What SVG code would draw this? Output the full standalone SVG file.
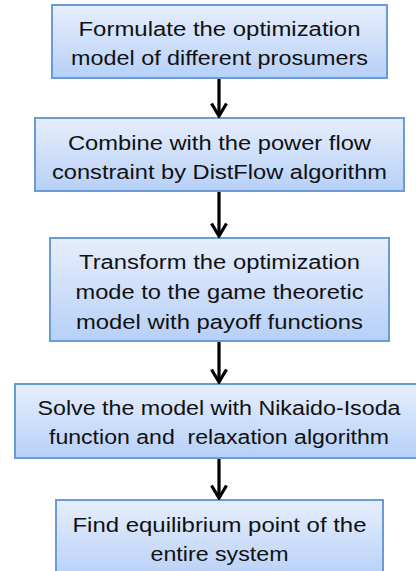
<svg xmlns="http://www.w3.org/2000/svg" width="416" height="571" viewBox="0 0 416 571">
  <defs>
    <linearGradient id="boxFill" x1="0" y1="0" x2="0" y2="1">
      <stop offset="0" stop-color="#e7eefc"/>
      <stop offset="1" stop-color="#b6d0f8"/>
    </linearGradient>
    <!-- open chevron head, drawn pointing along +x so orient="auto" follows the line -->
    <marker id="chev" viewBox="0 0 16 18" refX="14" refY="9" markerWidth="16" markerHeight="18" markerUnits="userSpaceOnUse" orient="auto">
      <path d="M1.5 1.5 L14 9 L1.5 16.5" fill="none" stroke="#000" stroke-width="3.2" stroke-linejoin="miter"/>
    </marker>
  </defs>
  <style>
    .box { fill: url(#boxFill); stroke: #6a9bd6; stroke-width: 2; }
    .lbl { font-family: "Liberation Sans", Arial, sans-serif; font-size: 19.5px; fill: #111; text-anchor: middle; }
    .conn { stroke: #000; stroke-width: 3.2; fill: none; }
  </style>

  <!-- flow steps -->
  <g id="step1">
    <rect class="box" x="52" y="5" width="335" height="73"/>
    <text class="lbl" x="219.5" y="36" textLength="282" lengthAdjust="spacingAndGlyphs">Formulate the optimization</text>
    <text class="lbl" x="219.5" y="65" textLength="297" lengthAdjust="spacingAndGlyphs">model of different prosumers</text>
  </g>

  <g id="step2">
    <rect class="box" x="35" y="118" width="369" height="73"/>
    <text class="lbl" x="219.5" y="150" textLength="303" lengthAdjust="spacingAndGlyphs">Combine with the power flow</text>
    <text class="lbl" x="219.5" y="179" textLength="335" lengthAdjust="spacingAndGlyphs">constraint by DistFlow algorithm</text>
  </g>

  <g id="step3">
    <rect class="box" x="50" y="238" width="339" height="103"/>
    <text class="lbl" x="219.5" y="269" textLength="281" lengthAdjust="spacingAndGlyphs">Transform the optimization</text>
    <text class="lbl" x="219.5" y="299" textLength="288" lengthAdjust="spacingAndGlyphs">mode to the game theoretic</text>
    <text class="lbl" x="219.5" y="329" textLength="287" lengthAdjust="spacingAndGlyphs">model with payoff functions</text>
  </g>

  <g id="step4">
    <rect class="box" x="15" y="384" width="409" height="74"/>
    <text class="lbl" x="219" y="415" textLength="363" lengthAdjust="spacingAndGlyphs">Solve the model with Nikaido-Isoda</text>
    <text class="lbl" x="219" y="444" textLength="340" lengthAdjust="spacingAndGlyphs" xml:space="preserve">function and  relaxation algorithm</text>
  </g>

  <g id="step5">
    <rect class="box" x="56" y="500" width="327" height="80"/>
    <text class="lbl" x="219.5" y="532" textLength="294" lengthAdjust="spacingAndGlyphs">Find equilibrium point of the</text>
    <text class="lbl" x="219.5" y="561" textLength="138" lengthAdjust="spacingAndGlyphs">entire system</text>
  </g>

  <!-- connectors -->
  <g id="connectors">
    <line class="conn" x1="219" y1="79" x2="219" y2="116" marker-end="url(#chev)"/>
    <line class="conn" x1="219" y1="192" x2="219" y2="236" marker-end="url(#chev)"/>
    <line class="conn" x1="219" y1="342" x2="219" y2="382" marker-end="url(#chev)"/>
    <line class="conn" x1="219" y1="459" x2="219" y2="498" marker-end="url(#chev)"/>
  </g>
</svg>
